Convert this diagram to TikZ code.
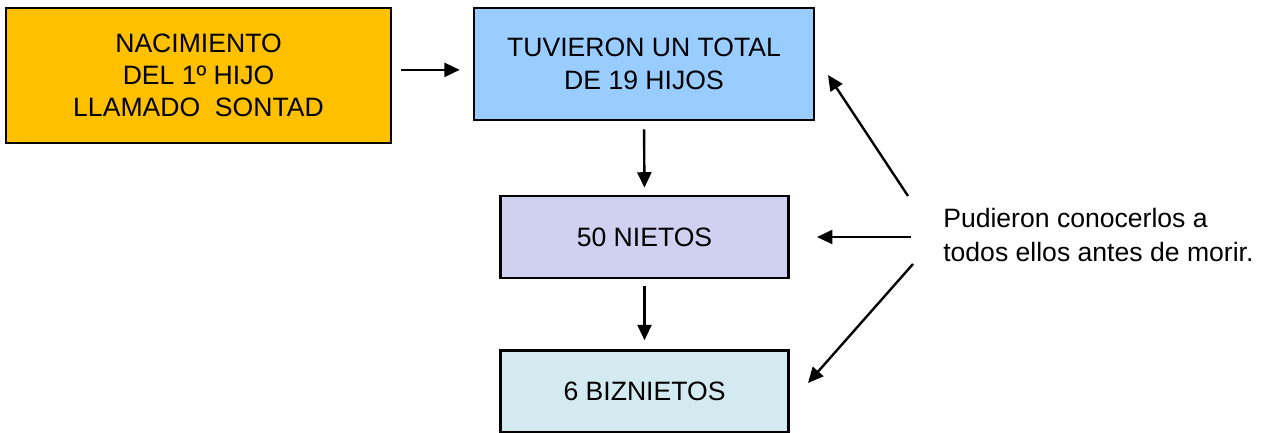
\documentclass[tikz,border=0pt]{standalone}
\usepackage{fontspec}
\setmainfont{Liberation Sans}
\usepackage{xcolor}
\usetikzlibrary{arrows.meta}
\definecolor{orangefill}{HTML}{FFC000}
\definecolor{bluefill}{HTML}{99CCFF}
\definecolor{lilacfill}{HTML}{D0D0F0}
\definecolor{cyanfill}{HTML}{D2EAF0}
\tikzset{
  box/.style={draw=black,line width=1.8pt,align=center,inner sep=0pt,
    font=\fontsize{18.9}{23}\selectfont},
  arrow/.style={-{Triangle[length=11pt,width=10pt]},line width=1.7pt,draw=black}
}
\begin{document}
\begin{tikzpicture}[x=0.025cm,y=-0.025cm,
  smallbox/.style={box,minimum width=7.2cm,minimum height=2.05cm}
]
  \useasboundingbox (0,0) rectangle (1265,433);
  \node[box,fill=orangefill,minimum width=9.625cm,minimum height=3.375cm]
    (birth) at (198.5,75.5) {NACIMIENTO\\DEL 1º HIJO\\LLAMADO~ SONTAD};
  \node[box,fill=bluefill,minimum width=8.5cm,minimum height=2.8cm]
    (children) at (644,64) {TUVIERON UN TOTAL\\DE 19 HIJOS};
  \node[smallbox,fill=lilacfill] (grandchildren) at (644.5,237) {50 NIETOS};
  \node[smallbox,fill=cyanfill] (greatgrand) at (644.5,391.5) {6 BIZNIETOS};
  \node[font=\fontsize{18.9}{23.5}\selectfont,align=left,anchor=west,inner sep=0pt]
    (note) at (943,235) {Pudieron conocerlos a\\todos ellos antes de morir.};

  % flechas entre cajas
  \draw[arrow,shorten <=6.4pt,shorten >=9.2pt]
    ([yshift=4pt]birth.east) -- ([yshift=4pt]birth.east -| children.west);
  \draw[arrow,shorten <=5.7pt,shorten >=5pt] (children.south) -- (grandchildren.north);
  \draw[arrow,shorten <=5pt,shorten >=6.4pt] (grandchildren.south) -- (greatgrand.north);

  % flechas desde la nota
  \coordinate (noteup) at (908,196);
  \coordinate (notemid) at (911,237);
  \coordinate (notelow) at (913,264);
  \coordinate (tipup) at (828,75);
  \coordinate (tipmid) at (817,237);
  \coordinate (tiplow) at (808,383);
  \draw[arrow] (noteup) -- (tipup);
  \draw[arrow] (notemid) -- (tipmid);
  \draw[arrow] (notelow) -- (tiplow);
\end{tikzpicture}
\end{document}
